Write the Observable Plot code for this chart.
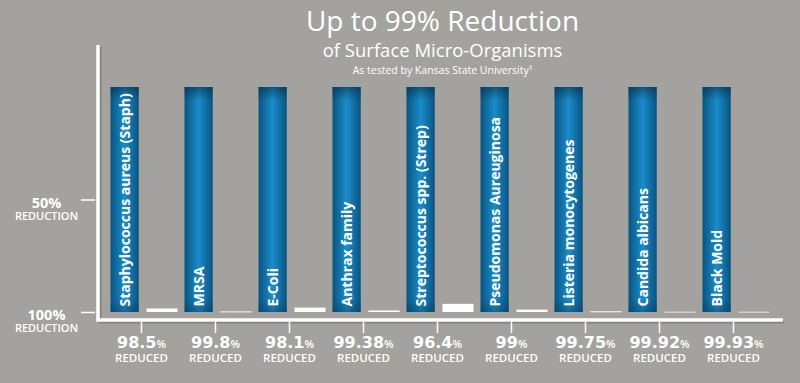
<!DOCTYPE html>
<html><head><meta charset="utf-8">
<script src="https://cdn.jsdelivr.net/npm/d3@7"></script>
<script src="https://cdn.jsdelivr.net/npm/@observablehq/plot@0.6"></script>
<style>
html,body{margin:0;padding:0;background:#a4a29e;}
#chart svg{display:block;}
</style></head><body><div id="chart"></div>
<script>
const organisms = ["Staphylococcus aureus (Staph)", "MRSA", "E-Coli", "Anthrax family", "Streptococcus spp. (Strep)", "Pseudomonas Aureuginosa", "Listeria monocytogenes", "Candida albicans", "Black Mold"];
const reducedPct = [98.5, 99.8, 98.1, 99.38, 96.4, 99, 99.75, 99.92, 99.93];
const beforeLevel = [100, 100, 100, 100, 100, 100, 100, 100, 100];
const yTickReduction = [50, 100];
const yTickLabels = ["50%", "100%"];
const yUnitLabel = "REDUCTION";
const xUnitLabel = "REDUCED";
const titleText = "Up to 99% Reduction";
const subtitleText = "of Surface Micro-Organisms";
const noteText = "As tested by Kansas State University\u00B9";

const rows = organisms.map((name, i) => ({
  name, before: beforeLevel[i], reduced: reducedPct[i],
  remaining: +(100 - reducedPct[i]).toFixed(2)
}));
const yTicks = yTickReduction.map((r, i) => ({level: 100 - r, label: yTickLabels[i]}));

const hum = "'Open Sans', Lato, sans-serif";

const defs = () => {
  const d = d3.create("svg:defs");
  const g = d.append("linearGradient").attr("id", "blueGrad").attr("x1", 0).attr("x2", 1).attr("y1", 0).attr("y2", 0);
  [[0, "#0a5480"], [0.5, "#1a8ccb"], [1, "#0a5480"]].forEach(([o, c]) => g.append("stop").attr("offset", o).attr("stop-color", c));
  const s = d.append("linearGradient").attr("id", "shade").attr("x1", 0).attr("x2", 0).attr("y1", 0).attr("y2", 1);
  [[0, "#062c45", 0.55], [0.06, "#062c45", 0], [0.94, "#062c45", 0], [1, "#062c45", 0.35]].forEach(([o, c, a]) =>
    s.append("stop").attr("offset", o).attr("stop-color", c).attr("stop-opacity", a));
  return d.node();
};

const axisLines = (index, scales, values, dims) => {
  const {width, height, marginLeft: l, marginRight: r, marginTop: t, marginBottom: b} = dims;
  const g = d3.create("svg:g").attr("fill", "none");
  const y0 = height - b, x1 = width - r;
  g.append("path").attr("d", `M${l + 2},${t + 2}V${y0 + 2}H${x1 + 1}`)
    .attr("stroke", "#5f5d5a").attr("stroke-opacity", 0.45).attr("stroke-width", 3);
  g.append("path").attr("d", `M${l},${t}V${y0}H${x1}`)
    .attr("stroke", "#ffffff").attr("stroke-width", 3.5);
  return g.node();
};

const chart = Plot.plot({
  width: 800,
  height: 383,
  marginLeft: 98,
  marginRight: 17,
  marginTop: 45,
  marginBottom: 63,
  style: {background: "#a4a29e", color: "white", fontFamily: hum},
  x: {type: "band", domain: organisms, padding: 0, insetLeft: 2.6, insetRight: 9.6, axis: null},
  y: {domain: [0, 100], insetTop: 42, insetBottom: 8, axis: null},
  marks: [
    defs,
    Plot.barY(rows, {x: "name", y: "before", fill: "url(#blueGrad)", insetLeft: 6.5, insetRight: 39.25}),
    Plot.barY(rows, {x: "name", y: "before", fill: "url(#shade)", insetLeft: 6.5, insetRight: 39.25}),
    Plot.barY(rows, {x: "name", y: "remaining", fill: "white", insetLeft: 42.5, insetRight: 0.5}),
    Plot.tickY(rows, {x: "name", y: "remaining", stroke: "white", strokeOpacity: 0.6, strokeWidth: 1, insetLeft: 42.5, insetRight: 0.5}),
    Plot.text(rows, {x: "name", text: "name", frameAnchor: "bottom", rotate: -90, textAnchor: "start", lineAnchor: "middle",
      dx: -16.4, dy: -14, fill: "white", fontSize: 14, fontWeight: "bold", fontFamily: hum}),
    axisLines,
    Plot.axisX({tickSize: 13, tickFormat: () => "", label: null, stroke: "white", strokeWidth: 1.5}),
    Plot.axisY(yTicks.map(d => d.level), {tickSize: 14, tickFormat: () => "", label: null, stroke: "white", strokeWidth: 1.5, dx: -3}),
    Plot.text(yTicks, {y: "level", text: "label", frameAnchor: "left", dx: -52, dy: 7.5, lineAnchor: "bottom",
      textAnchor: "middle", fill: "white", fontSize: 14.5, fontWeight: "bold", fontFamily: hum}),
    Plot.text(yTicks, {y: "level", text: () => yUnitLabel, frameAnchor: "left", dx: -52, dy: 19.5, lineAnchor: "bottom",
      textAnchor: "middle", fill: "white", fontSize: 11, fontWeight: 600, fontFamily: hum}),
    Plot.text(rows, {x: "name", text: d => String(d.reduced), frameAnchor: "bottom", dy: 27, lineAnchor: "bottom",
      fill: "white", fontSize: 16, fontWeight: "bold", fontFamily: "'DejaVu Sans', sans-serif"}),
    Plot.text(rows, {x: "name", text: () => xUnitLabel, frameAnchor: "bottom", dy: 41, lineAnchor: "bottom",
      fill: "white", fontSize: 11.5, fontWeight: 600, fontFamily: hum}),
    Plot.text([titleText], {frameAnchor: "top", dx: 1.5, dy: -15, lineAnchor: "bottom", fill: "white", fontSize: 28, fontWeight: 400, fontFamily: hum}),
    Plot.text([subtitleText], {frameAnchor: "top", dx: 1.5, dy: 11, lineAnchor: "bottom", fill: "white", fontSize: 18.5, fontWeight: 400, fontFamily: hum}),
    Plot.text([noteText], {frameAnchor: "top", dx: 1.5, dy: 28.5, lineAnchor: "bottom", fill: "white", fontSize: 10.5, fontWeight: 400, fontFamily: hum})
  ]
});

const pctStrings = new Set(reducedPct.map(String));
chart.querySelectorAll("text").forEach(t => {
  if (t.childNodes.length === 1 && t.firstChild.nodeType === 3 && pctStrings.has(t.textContent)) {
    const s = document.createElementNS("http://www.w3.org/2000/svg", "tspan");
    s.textContent = "%";
    s.setAttribute("font-size", "11");
    s.setAttribute("font-weight", "600");
    s.setAttribute("font-family", hum);
    t.appendChild(s);
  }
});

document.getElementById("chart").appendChild(chart);
</script></body></html>
